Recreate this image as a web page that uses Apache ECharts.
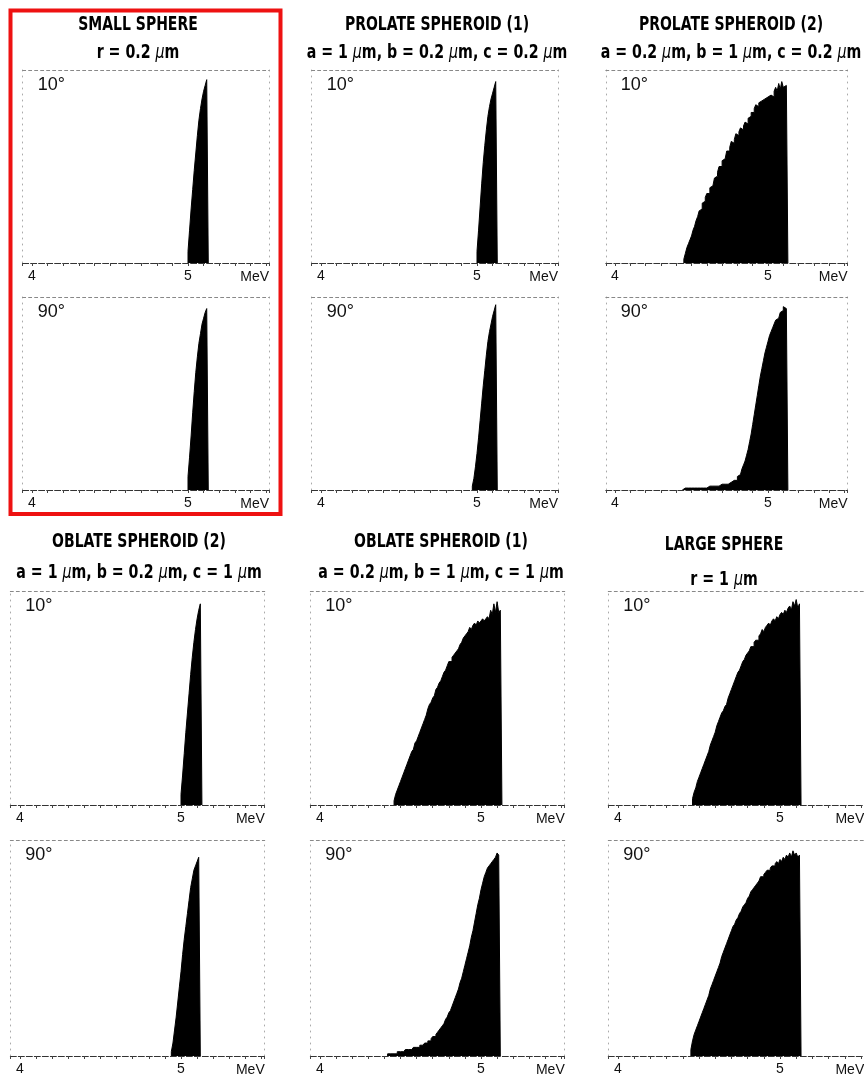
<!DOCTYPE html>
<html>
<head>
<meta charset="utf-8">
<title>Alpha energy spectra</title>
<script src="https://cdn.jsdelivr.net/npm/echarts@6/dist/echarts.min.js"></script>
<style>
  html, body { margin: 0; padding: 0; background: #fff; }
  #chart { width: 864px; height: 1079px; }
</style>
</head>
<body>
<div id="chart"></div>
<script>
// ---- data ----
const panelTitles = ['SMALL SPHERE', 'PROLATE SPHEROID (1)', 'PROLATE SPHEROID (2)',
                     'OBLATE SPHEROID (2)', 'OBLATE SPHEROID (1)', 'LARGE SPHERE'];
const panelSizes = ['r = 0.2 μm', 'a = 1 μm, b = 0.2 μm, c = 0.2 μm', 'a = 0.2 μm, b = 1 μm, c = 0.2 μm',
                    'a = 1 μm, b = 0.2 μm, c = 1 μm', 'a = 0.2 μm, b = 1 μm, c = 1 μm', 'r = 1 μm'];
const angleLabels = ['10°', '90°'];
const tickLabels = [4, 5];
const unitLabel = 'MeV';
const binWidth = 0.01;          // MeV per channel
const energyRange = [3.94, 5.52];
const countRange = [0, 100];

// first channel (MeV) of every spectrum, in panel order
const start10 = [5.00, 5.00, 4.45, 5.00, 4.46, 4.46];
const start90 = [5.00, 4.97, 4.44, 4.94, 4.42, 4.45];

// counts per channel (arbitrary units, 100 = top of frame)
const smallSphere10 = [6, 17, 28, 38, 48, 57, 66, 74, 80, 85, 89, 92, 95];
const smallSphere90 = [7, 17, 28, 40, 51, 61, 69, 76, 81, 86, 89, 92, 94];

const prolate1_10 = [6, 17, 29, 41, 52, 61, 69, 76, 81, 85, 88, 91, 94];
const prolate1_90 = [2, 6, 12, 19, 27, 36, 45, 54, 62, 70, 77, 82, 86, 90, 93, 96];

const prolate2_10 = [2, 5, 8, 10, 12, 14, 17, 19, 22, 24,
                     27, 28, 31, 32, 34, 36, 36, 39, 40, 41,
                     44, 45, 47, 50, 50, 53, 54, 55, 58, 58,
                     60, 63, 62, 64, 67, 66, 68, 70, 69, 71,
                     73, 72, 75, 76, 78, 78, 80, 82, 81, 83,
                     84, 83, 85, 84, 86, 85, 87, 88, 86, 89,
                     91, 89, 93, 90, 94, 91, 92, 93];
const prolate2_90 = [1, 1, 1, 1, 1, 1, 1, 1, 1, 1,
                     1, 1, 1, 1, 1, 1, 1, 2, 1, 2,
                     2, 2, 2, 2, 2, 3, 3, 3, 3, 3,
                     4, 4, 4, 5, 5, 5, 7, 8, 9, 11,
                     13, 15, 18, 21, 25, 29, 34, 39, 44, 49,
                     54, 59, 63, 67, 71, 74, 77, 80, 82, 84,
                     86, 88, 89, 90, 92, 93, 95, 94, 95];

const oblate2_10 = [5, 14, 24, 34, 43, 52, 61, 69, 76, 82, 87, 91, 94];
const oblate2_90 = [2, 6, 12, 18, 25, 32, 39, 47, 54, 60, 66, 72, 78, 82, 86, 88, 90, 92];

const oblate1_10 = [2, 5, 7, 9, 11, 13, 15, 17, 19, 21,
                    23, 25, 26, 29, 30, 32, 34, 36, 38, 40,
                    42, 45, 47, 48, 50, 51, 54, 55, 57, 58,
                    60, 62, 63, 65, 67, 67, 69, 70, 71, 72,
                    73, 75, 76, 78, 79, 80, 81, 83, 82, 84,
                    85, 84, 86, 85, 86, 87, 86, 87, 88, 87,
                    91, 89, 94, 90, 95, 90, 91];
const oblate1_90 = [1, 1, 1, 1, 1, 1, 2, 2, 2, 2,
                    2, 3, 3, 3, 3, 3, 4, 4, 4, 4,
                    5, 5, 5, 6, 6, 7, 7, 8, 9, 9,
                    10, 11, 12, 13, 14, 15, 17, 18, 20, 21,
                    23, 25, 27, 29, 31, 34, 36, 39, 42, 45,
                    48, 51, 55, 58, 62, 66, 70, 73, 77, 80,
                    83, 85, 87, 88, 89, 90, 91, 92, 94, 93];

const largeSphere10 = [3, 6, 8, 11, 13, 15, 17, 19, 21, 23,
                       25, 28, 30, 32, 34, 37, 39, 41, 43, 44,
                       46, 47, 50, 52, 54, 56, 58, 60, 62, 63,
                       65, 67, 68, 70, 71, 72, 74, 74, 76, 77,
                       77, 79, 80, 82, 81, 83, 84, 85, 84, 86,
                       87, 86, 88, 87, 89, 90, 89, 91, 90, 92,
                       93, 91, 95, 93, 96, 92, 94];
const largeSphere90 = [3, 7, 10, 12, 14, 16, 18, 20, 22, 24,
                       26, 28, 31, 33, 35, 37, 39, 41, 43, 46,
                       48, 50, 52, 54, 56, 58, 60, 61, 63, 64,
                       66, 67, 69, 70, 71, 73, 74, 76, 77, 78,
                       79, 80, 81, 83, 83, 84, 85, 86, 86, 87,
                       88, 88, 89, 90, 89, 91, 90, 92, 91, 93,
                       92, 94, 92, 95, 93, 94, 92, 93];

const spectra10 = [smallSphere10, prolate1_10, prolate2_10, oblate2_10, oblate1_10, largeSphere10];
const spectra90 = [smallSphere90, prolate1_90, prolate2_90, oblate2_90, oblate1_90, largeSphere90];

// ---- layout (pixels) ----
// cx: title centre, tY: title lines, t4/t5: x of the 4 and 5 MeV ticks, rows: [top, axis] of each frame
const panelLayout = [
  { cx: 138, tY: [25, 53],   t4: 32,  t5: 188, rows: [[70, 263], [297, 490]] },
  { cx: 437, tY: [25, 53],   t4: 321, t5: 477, rows: [[70, 263], [297, 490]] },
  { cx: 731, tY: [25, 53],   t4: 615, t5: 768, rows: [[70, 263], [297, 490]] },
  { cx: 139, tY: [542, 573], t4: 20,  t5: 181, rows: [[591, 805], [840, 1056]] },
  { cx: 441, tY: [542, 573], t4: 320, t5: 481, rows: [[591, 805], [840, 1056]] },
  { cx: 724, tY: [545, 580], t4: 618, t5: 780, rows: [[591, 805], [840, 1056]] }
];

const titleFont = 'DejaVu Sans';

function channelPoints(counts, start) {
  const pts = [[start, 0]];
  counts.forEach(function (c, j) {
    pts.push([+(start + j * binWidth).toFixed(3), c]);
  });
  pts.push([+(start + counts.length * binWidth).toFixed(3), 0]);
  return pts;
}

const grids = [], xAxes = [], yAxes = [], series = [], graphics = [];

panelLayout.forEach(function (p, k) {
  const ppm = p.t5 - p.t4;
  const left = p.t4 - (tickLabels[0] - energyRange[0]) * ppm;
  const width = (energyRange[1] - energyRange[0]) * ppm;

  // panel titles (condensed heavy lettering)
  graphics.push({
    type: 'text', x: p.cx, y: p.tY[0], scaleX: 0.70, silent: true,
    style: { text: panelTitles[k], fontFamily: titleFont, fontWeight: 'bold', fontSize: 20,
             fill: '#000', align: 'center', verticalAlign: 'middle' }
  });
  graphics.push({
    type: 'text', x: p.cx, y: p.tY[1], scaleX: 0.71, silent: true,
    style: { text: panelSizes[k].replace(/μ/g, '{mu|μ}'), fontFamily: titleFont, fontWeight: 'bold',
             fontSize: 20, fill: '#000', align: 'center', verticalAlign: 'middle',
             rich: { mu: { fontFamily: titleFont, fontStyle: 'italic', fontWeight: 'normal', fontSize: 20, fill: '#000' } } }
  });

  [spectra10[k], spectra90[k]].forEach(function (counts, r) {
    const gi = grids.length;
    const row = p.rows[r];
    grids.push({ left: left, top: row[0], width: width, height: row[1] - row[0],
                 containLabel: false, outerBoundsMode: 'none', show: false });

    // bottom energy axis
    xAxes.push({
      gridIndex: gi, type: 'value', position: 'bottom', min: energyRange[0], max: energyRange[1], splitNumber: 16,
      axisLine: { show: true, onZero: false, lineStyle: { color: '#333', width: 1, type: [6, 2] } },
      axisTick: { show: true, length: 3, lineStyle: { color: '#444' } },
      splitLine: { show: false },
      axisLabel: {
        margin: 6, fontSize: 14, fontFamily: 'Liberation Sans', color: '#111',
        formatter: function (v) {
          const n = Math.round(v);
          return (Math.abs(v - n) < 1e-6 && tickLabels.indexOf(n) >= 0) ? String(n) : '';
        }
      },
      name: unitLabel, nameLocation: 'end', nameGap: 0,
      nameTextStyle: { align: 'right', verticalAlign: 'top', padding: [7, 0, 0, 0],
                       fontSize: 14, fontFamily: 'Liberation Sans', color: '#111' }
    });
    // top frame
    xAxes.push({
      gridIndex: gi, type: 'value', position: 'top', min: energyRange[0], max: energyRange[1],
      axisLine: { show: true, onZero: false, lineStyle: { color: '#888', width: 1, type: [3, 3] } },
      axisTick: { show: false }, axisLabel: { show: false }, splitLine: { show: false }
    });
    // left frame, with the angle label
    yAxes.push({
      gridIndex: gi, type: 'value', position: 'left', min: countRange[0], max: countRange[1],
      axisLine: { show: true, onZero: false, lineStyle: { color: '#aaa', width: 1, type: [1, 5] } },
      axisTick: { show: false }, axisLabel: { show: false }, splitLine: { show: false },
      name: angleLabels[r], nameLocation: 'end', nameGap: -15,
      nameTextStyle: { align: 'left', verticalAlign: 'middle', padding: [0, 0, 0, 15],
                       fontSize: 18, fontFamily: 'Liberation Sans', color: '#111' }
    });
    // right frame
    yAxes.push({
      gridIndex: gi, type: 'value', position: 'right', min: countRange[0], max: countRange[1],
      axisLine: { show: true, onZero: false, lineStyle: { color: '#aaa', width: 1, type: [1, 5] } },
      axisTick: { show: false }, axisLabel: { show: false }, splitLine: { show: false }
    });

    const start = r === 0 ? start10[k] : start90[k];
    series.push({
      type: 'line', xAxisIndex: 2 * gi, yAxisIndex: 2 * gi, step: 'end', symbol: 'none', silent: true,
      data: channelPoints(counts, start),
      lineStyle: { color: '#000', width: 1 },
      areaStyle: { color: '#000', opacity: 1 }
    });
  });
});

// red highlight around the first panel
graphics.push({
  type: 'rect', silent: true, z: 100,
  shape: { x: 10.5, y: 10.5, width: 270, height: 503.5 },
  style: { fill: 'none', stroke: '#ee1111', lineWidth: 4 }
});

const chart = echarts.init(document.getElementById('chart'), null, { renderer: 'canvas' });
chart.setOption({
  backgroundColor: '#fff',
  animation: false,
  grid: grids,
  xAxis: xAxes,
  yAxis: yAxes,
  series: series,
  graphic: graphics
});
</script>
</body>
</html>
